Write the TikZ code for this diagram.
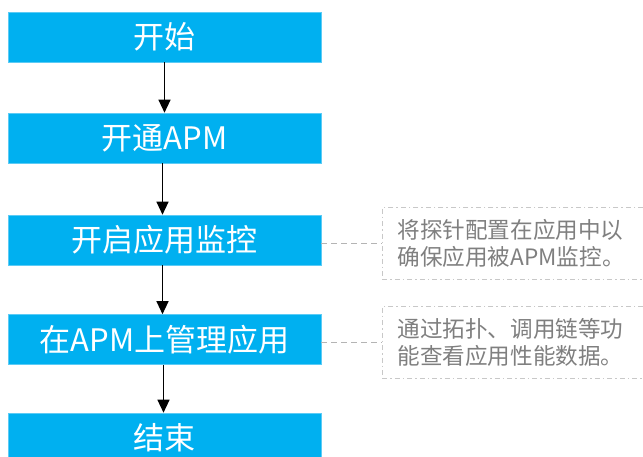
\documentclass[tikz,border=0pt]{standalone}
\usepackage{fontspec}
\setmainfont{Noto Sans CJK SC}
\usetikzlibrary{arrows.meta}
\definecolor{boxblue}{HTML}{00B0F0}
\definecolor{boxedge}{HTML}{5CCBF5}
\definecolor{notetext}{HTML}{7F7F7F}
\definecolor{noteedge}{HTML}{C8C8C8}
\definecolor{linkgray}{HTML}{B4B4B4}
\begin{document}
\begin{tikzpicture}[x=1pt,y=-1pt,
  stepbox/.style={draw=boxedge,line width=0.6pt,fill=boxblue,text=white,
    minimum width=313pt,minimum height=50pt,inner sep=0pt,
    font=\fontsize{31}{34}\selectfont},
  notebox/.style={draw=noteedge,line width=0.8pt,dash pattern=on 5pt off 3pt on 1.5pt off 3pt,
    text=notetext,anchor=west,text width=252pt,inner xsep=15pt,minimum height=72pt,
    align=left,font=\fontsize{22.6}{27}\selectfont},
  flow/.style={line width=1.2pt,black,-{Triangle[width=12pt,length=13pt]}},
  link/.style={linkgray,line width=0.8pt,dash pattern=on 6pt off 4pt}]
\useasboundingbox (0,0) rectangle (643,456);
\clip (0,0) rectangle (643,456);
\node[stepbox] (s1) at (164.5,37) {开始};
\node[stepbox] (s2) at (164.5,138) {开通APM};
\node[stepbox] (s3) at (164.5,240) {开启应用监控};
\node[stepbox] (s4) at (164.5,339.5) {在APM上管理应用};
\node[stepbox] (s5) at (164.5,438) {结束};
\draw[flow] (s1.south) -- (s2.north);
\draw[flow] ([xshift=-2pt]s2.south) -- ([xshift=-2pt]s3.north);
\draw[flow] ([xshift=-2pt]s3.south) -- ([xshift=-2pt]s4.north);
\draw[flow] ([xshift=-1pt]s4.south) -- ([xshift=-1pt]s5.north);
\node[notebox] (n1) at (382,243) {将探针配置在应用中以\\确保应用被APM监控。};
\node[notebox] (n2) at (382,342) {通过拓扑、调用链等功\\能查看应用性能数据。};
\draw[link] (s3.east |- n1.west) -- (n1.west);
\draw[link] (s4.east |- n2.west) -- (n2.west);
\end{tikzpicture}
\end{document}
